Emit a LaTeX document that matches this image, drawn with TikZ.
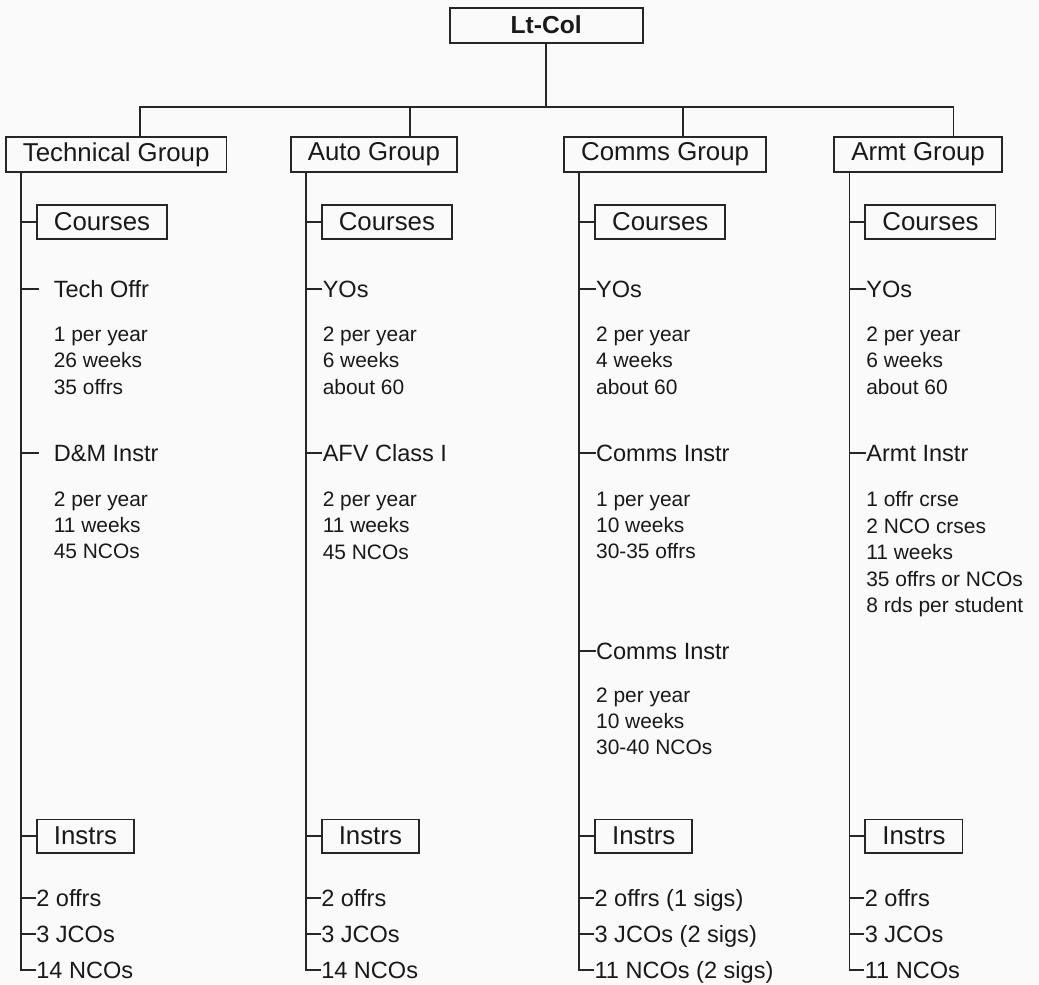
\documentclass[tikz,border=0pt]{standalone}
\usepackage{fontspec}
\setmainfont{Liberation Sans}
\usetikzlibrary{positioning}
\tikzset{
  topblock/.style={
    rectangle, draw=black!85, line width=1pt, text=black!90,
    minimum width=38.6mm, minimum height=7mm, inner sep=0pt,
    font=\fontsize{14}{17}\selectfont\bfseries
  },
  groupblock/.style={
    rectangle, draw=black!85, line width=1pt, text=black!90,
    inner xsep=3.4mm, inner ysep=0pt, minimum height=7mm,
    font=\fontsize{14.7}{17}\selectfont
  },
  subblock/.style={groupblock, minimum height=6.7mm},
  crslabel/.style={
    inner sep=0pt, text height=9.6pt, text depth=0pt, text=black!90,
    font=\fontsize{13.4}{16}\selectfont
  },
  details/.style={
    inner sep=0pt, align=left, text=black!90,
    font=\fontsize{11.9}{15}\selectfont
  },
  staff/.style={crslabel},
  link/.style={line width=1pt, draw=black!85}
}
\begin{document}
\begin{tikzpicture}

\path[use as bounding box, fill=black!2] (-109.24mm,5.04mm) rectangle (98.56mm,-191.76mm);

\node[topblock] (ltcol) {Lt-Col};
\coordinate[below=12.7mm of ltcol] (bar);

\node[groupblock, below=18.5mm of ltcol, xshift=-86mm] (techgrp) {Technical Group};
\node[groupblock, right=12.5mm of techgrp]  (autogrp)  {Auto Group};
\node[groupblock, right=21.1mm of autogrp]  (commsgrp) {Comms Group};
\node[groupblock, right=13.3mm of commsgrp] (armtgrp)  {Armt Group};

\coordinate[right=3.2mm of techgrp.south west]  (techsp);
\coordinate[right=3.2mm of autogrp.south west]  (autosp);
\coordinate[right=3.2mm of commsgrp.south west] (commssp);
\coordinate[right=3.2mm of armtgrp.south west]  (armtsp);

% technical group
\node[subblock, below right=6.3mm and 6.2mm of techgrp.south west] (techcrs) {Courses};
\node[crslabel, below right=8.1mm and 3.5mm of techcrs.south west] (techoffr) {Tech Offr};
\node[details, below right=5.8mm and 0mm of techoffr.south west] (techoffrinfo)
  {1 per year\\26 weeks\\35 offrs};
\node[crslabel, below right=9.9mm and 0mm of techoffrinfo.south west] (dminstr) {D\&M Instr};
\node[details, below right=5.9mm and 0mm of dminstr.south west] (dminstrinfo)
  {2 per year\\11 weeks\\45 NCOs};
\node[subblock, below right=115.8mm and 0mm of techcrs.south west] (techins) {Instrs};
\node[staff, below right=7mm and 0mm of techins.south west] (techi1) {2 offrs};
\node[staff, below right=3.7mm and 0mm of techi1.south west] (techi2) {3 JCOs};
\node[staff, below right=3.7mm and 0mm of techi2.south west] (techi3) {14 NCOs};

% auto group
\node[subblock, below right=6.3mm and 6.2mm of autogrp.south west] (autocrs) {Courses};
\node[crslabel, below right=8.1mm and 0.3mm of autocrs.south west] (autoyo) {YOs};
\node[details, below right=5.8mm and 0mm of autoyo.south west] (autoyoinfo)
  {2 per year\\6 weeks\\about 60};
\node[crslabel, below right=9.9mm and 0mm of autoyoinfo.south west] (afv) {AFV Class I};
\node[details, below right=5.9mm and 0mm of afv.south west] (afvinfo)
  {2 per year\\11 weeks\\45 NCOs};
\node[subblock, below right=115.8mm and 0mm of autocrs.south west] (autoins) {Instrs};
\node[staff, below right=7mm and 0mm of autoins.south west] (autoi1) {2 offrs};
\node[staff, below right=3.7mm and 0mm of autoi1.south west] (autoi2) {3 JCOs};
\node[staff, below right=3.7mm and 0mm of autoi2.south west] (autoi3) {14 NCOs};

% comms group
\node[subblock, below right=6.3mm and 6.2mm of commsgrp.south west] (commscrs) {Courses};
\node[crslabel, below right=8.1mm and 0.3mm of commscrs.south west] (commsyo) {YOs};
\node[details, below right=5.8mm and 0mm of commsyo.south west] (commsyoinfo)
  {2 per year\\4 weeks\\about 60};
\node[crslabel, below right=9.9mm and 0mm of commsyoinfo.south west] (cinstra) {Comms Instr};
\node[details, below right=5.9mm and 0mm of cinstra.south west] (cinstrainfo)
  {1 per year\\10 weeks\\30-35 offrs};
\node[crslabel, below right=16.5mm and 0mm of cinstrainfo.south west] (cinstrb) {Comms Instr};
\node[details, below right=5.5mm and 0mm of cinstrb.south west] (cinstrbinfo)
  {2 per year\\10 weeks\\30-40 NCOs};
\node[subblock, below right=115.8mm and 0mm of commscrs.south west] (commsins) {Instrs};
\node[staff, below right=7mm and 0mm of commsins.south west] (commsi1) {2 offrs (1 sigs)};
\node[staff, below right=3.7mm and 0mm of commsi1.south west] (commsi2) {3 JCOs (2 sigs)};
\node[staff, below right=3.7mm and 0mm of commsi2.south west] (commsi3) {11 NCOs (2 sigs)};

% armt group
\node[subblock, below right=6.3mm and 6.2mm of armtgrp.south west] (armtcrs) {Courses};
\node[crslabel, below right=8.1mm and 0.3mm of armtcrs.south west] (armtyo) {YOs};
\node[details, below right=5.8mm and 0mm of armtyo.south west] (armtyoinfo)
  {2 per year\\6 weeks\\about 60};
\node[crslabel, below right=9.9mm and 0mm of armtyoinfo.south west] (ainstr) {Armt Instr};
\node[details, below right=5.9mm and 0mm of ainstr.south west] (ainstrinfo)
  {1 offr crse\\2 NCO crses\\11 weeks\\35 offrs or NCOs\\8 rds per student};
\node[subblock, below right=115.8mm and 0mm of armtcrs.south west] (armtins) {Instrs};
\node[staff, below right=7mm and 0mm of armtins.south west] (armti1) {2 offrs};
\node[staff, below right=3.7mm and 0mm of armti1.south west] (armti2) {3 JCOs};
\node[staff, below right=3.7mm and 0mm of armti2.south west] (armti3) {11 NCOs};

% top bar
\draw[link] (ltcol) -- (bar);
\draw[link] ([xshift=4.7mm]techgrp.north) |- (bar) -| ([xshift=7.1mm]armtgrp.north);
\draw[link] ([xshift=7.2mm]autogrp.north) -- ([xshift=7.2mm]autogrp.north |- bar);
\draw[link] ([xshift=3.6mm]commsgrp.north) -- ([xshift=3.6mm]commsgrp.north |- bar);

% spines
\draw[link] (techsp) |- (techi3.west);
\draw[link] (autosp) |- (autoi3.west);
\draw[link] (commssp) |- (commsi3.west);
\draw[link] (armtsp) |- (armti3.west);

% ticks
\foreach \n in {techcrs,techins,techi1,techi2}
  \draw[link] (techsp |- \n.west) -- (\n.west);
\foreach \n in {techoffr,dminstr}
  \draw[link, shorten >=2.8mm] (techsp |- \n.west) -- (\n.west);
\foreach \n in {autocrs,autoyo,afv,autoins,autoi1,autoi2}
  \draw[link] (autosp |- \n.west) -- (\n.west);
\foreach \n in {commscrs,commsyo,cinstra,cinstrb,commsins,commsi1,commsi2}
  \draw[link] (commssp |- \n.west) -- (\n.west);
\foreach \n in {armtcrs,armtyo,ainstr,armtins,armti1,armti2}
  \draw[link] (armtsp |- \n.west) -- (\n.west);

\end{tikzpicture}
\end{document}
